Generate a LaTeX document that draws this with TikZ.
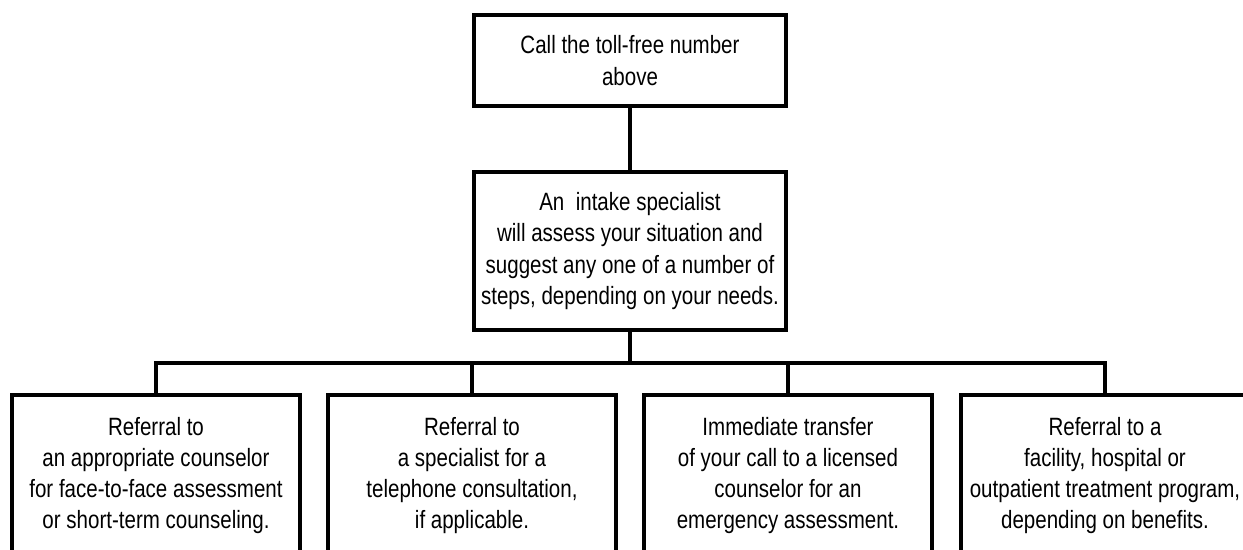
\documentclass[tikz,border=0pt]{standalone}
\usepackage{fontspec}
\newfontfamily\narrowfont{Liberation Sans}[FakeStretch=0.82]
\tikzset{
    stepbox/.style={draw,line width=3pt,line join=miter,align=center,inner sep=0pt,minimum width=7.8cm,font={\narrowfont\fontsize{17.8}{22.2}\selectfont}},
    topbox/.style={stepbox,minimum height=2.275cm},
    midbox/.style={stepbox,minimum height=3.95cm},
    refbox/.style={stepbox,minimum width=7.2cm,minimum height=4.025cm},
    link/.style={line width=3pt,line join=miter}
}
\begin{document}
\begin{tikzpicture}[x=0.025cm,y=-0.025cm]
        \useasboundingbox (0,0) rectangle (1243,550);
        \clip (0,0) rectangle (1243,550);
        %---
        \node[topbox] (call) at (630,60.5) {Call the toll-free number\\above};
        \node[midbox] (intake) at (630,251) {An\ \ intake specialist\\will assess your situation and\\suggest any one of a number of\\steps, depending on your needs.};
        \coordinate (bus) at (630,363);

        \node[refbox] (ref-couns) at (156,475.5) {Referral to\\an appropriate counselor\\for face-to-face assessment\\or short-term counseling.};
        \node[refbox] (ref-phone) at (472,475.5) {Referral to\\a specialist for a\\telephone consultation,\\if applicable.};
        \node[refbox] (ref-trans) at (788,475.5) {Immediate transfer\\of your call to a licensed\\counselor for an\\emergency assessment.};
        \node[refbox] (ref-facil) at (1105,475.5) {Referral to a\\facility, hospital or\\outpatient treatment program,\\depending on benefits.};

        %---
        \begin{scope}[every path/.style={link}]
            \draw (call) -- (intake);
            \draw (intake) -- (bus);
            \draw (ref-couns.north) |- (ref-facil.north |- bus) -- (ref-facil.north);
            \foreach \r in {ref-phone,ref-trans}
                \draw (\r.north) -- (\r.north |- bus);
        \end{scope}
    \end{tikzpicture}
\end{document}
